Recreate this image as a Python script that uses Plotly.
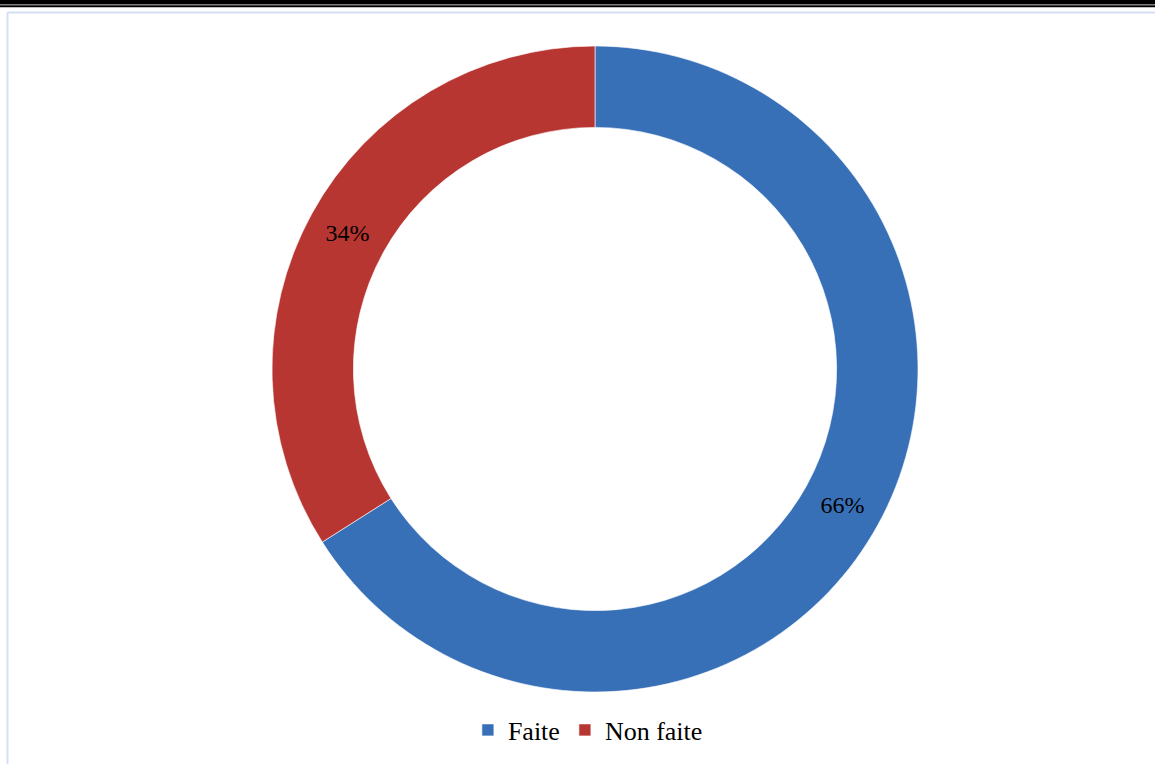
import plotly.graph_objects as go

labels = ["Faite", "Non faite"]
values = [66, 34]
colors = ["#3870B8", "#B83632"]

W, H = 1155, 764
cx, cy, r = 595, 369, 323

fig = go.Figure(go.Pie(
    labels=labels,
    values=values,
    hole=0.748,
    sort=False,
    direction="clockwise",
    rotation=0,
    marker=dict(colors=colors, line=dict(color="rgba(255,255,255,0.6)", width=1)),
    textinfo="percent",
    texttemplate="%{percent:.0%}",
    textposition="inside",
    insidetextorientation="horizontal",
    textfont=dict(family="Liberation Serif", size=24, color="#000000"),
    domain=dict(x=[(cx - r) / W, (cx + r) / W], y=[1 - (cy + r) / H, 1 - (cy - r) / H]),
    hoverinfo="label+percent",
))

shapes = [
    dict(type="rect", xref="paper", yref="paper", x0=0, x1=1, y0=1 - 4.5 / H, y1=1,
         fillcolor="#000000", line=dict(width=0), layer="above"),
    dict(type="rect", xref="paper", yref="paper", x0=0, x1=1, y0=1 - 7.3 / H, y1=1 - 5.3 / H,
         fillcolor="#000000", line=dict(width=0), layer="above"),
    dict(type="line", xref="paper", yref="paper", x0=7.5 / W, x1=1, y0=1 - 12.5 / H, y1=1 - 12.5 / H,
         line=dict(color="#D3E0F1", width=2)),
    dict(type="line", xref="paper", yref="paper", x0=7.5 / W, x1=7.5 / W, y0=0, y1=1 - 12.5 / H,
         line=dict(color="#D3E0F1", width=2)),
]

fig.update_layout(
    width=W, height=H,
    margin=dict(l=0, r=0, t=0, b=0),
    paper_bgcolor="white",
    plot_bgcolor="white",
    showlegend=True,
    legend=dict(orientation="h", x=0.509, xanchor="center", y=1 - 730 / H, yanchor="middle",
                font=dict(family="Liberation Serif", size=26, color="#000000"),
                itemwidth=30, traceorder="normal"),
    shapes=shapes,
)

fig.write_html("out.html", config={"displayModeBar": False},
               post_script="document.body.style.margin='0';document.body.style.overflow='hidden';")
